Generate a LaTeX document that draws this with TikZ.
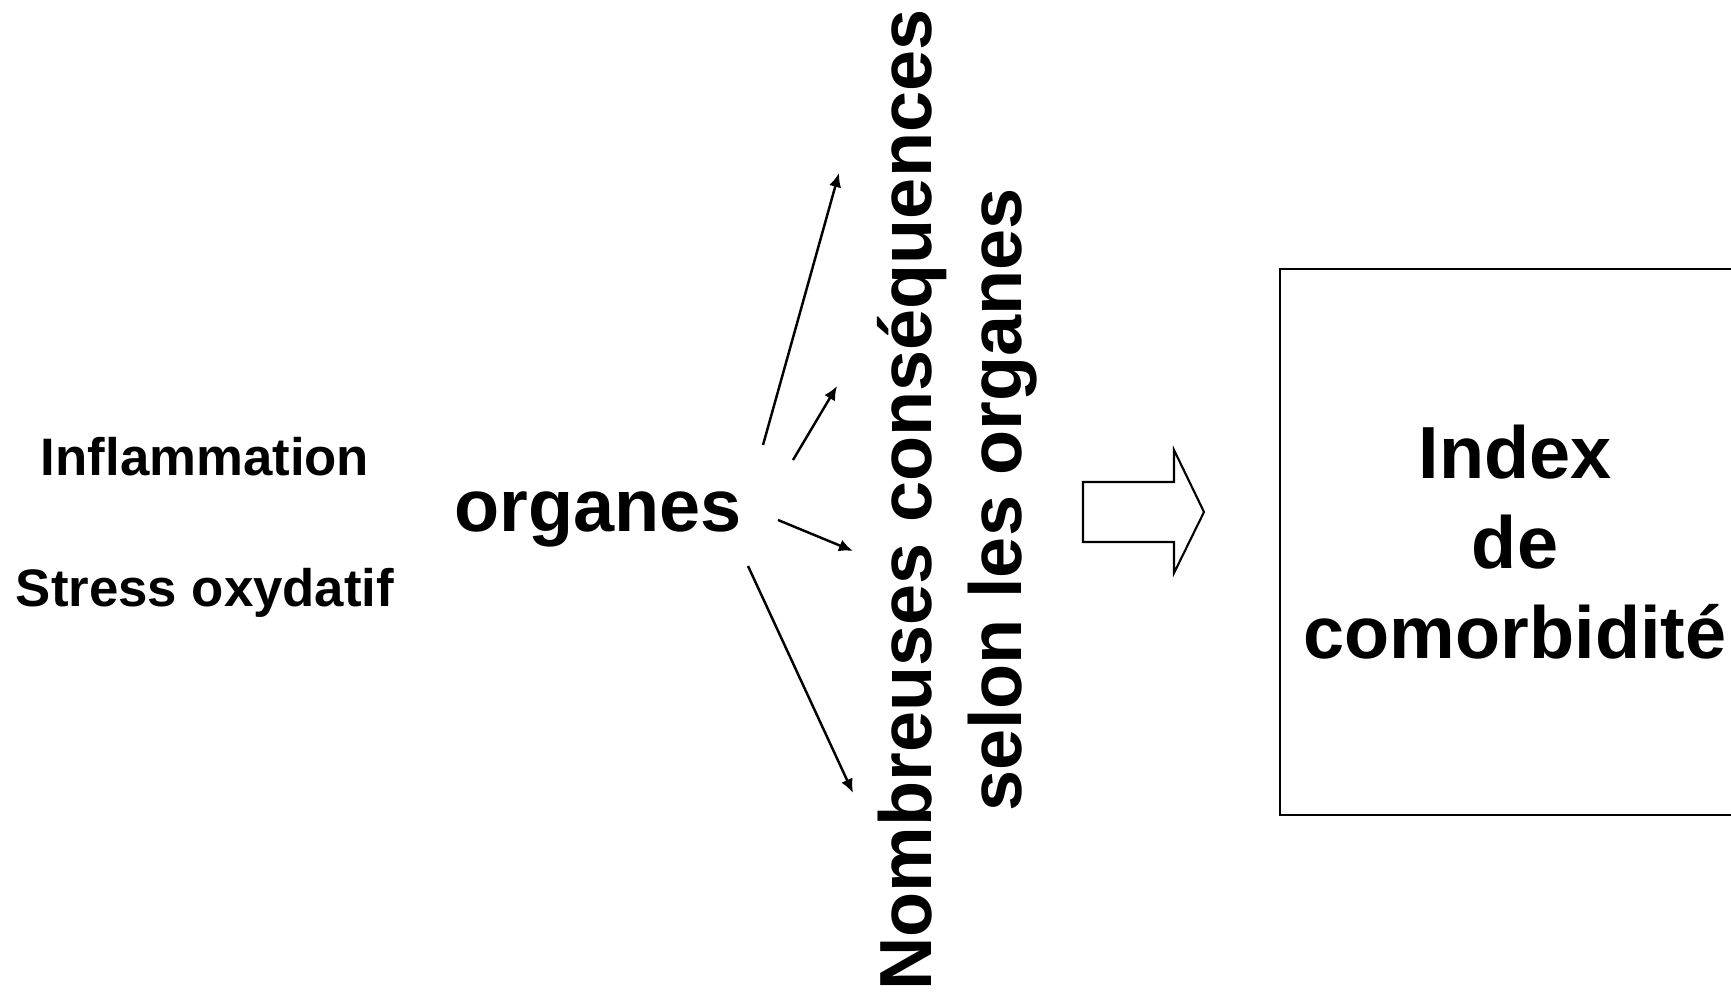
\documentclass[tikz,border=0pt]{standalone}
\usepackage{fontspec}
\setmainfont{Liberation Sans}
\usetikzlibrary{arrows.meta,positioning}

\begin{document}
\begin{tikzpicture}[x=0.01cm, y=-0.01cm]
\tikzset{
	    smalltext/.style={font=\fontsize{15}{18}\selectfont\bfseries, inner sep=0pt},
	    bigtext/.style={font=\fontsize{21}{25.6}\selectfont\bfseries, align=center, inner sep=0pt},
	    mybox/.style={rectangle, draw=black, line width=0.6pt, minimum width=4.7cm, minimum height=5.46cm},
	    myarrow/.style={-{Latex[length=4pt,width=3.5pt]}, line width=0.7pt},
	    hollowarrow/.style={draw=black, line width=0.6pt, fill=white}
	}
	\useasboundingbox (0,0) rectangle (1731,998);
	\clip (0,0) rectangle (1731,998);

	\node[smalltext, anchor=base] (inflam) at (205,476) {Inflammation};
	\node[smalltext, below=0.9cm of inflam] (stress) {Stress oxydatif};

	\node[bigtext, anchor=base] (organes) at (598,532) {organes};

	\node[bigtext, rotate=90] (consequences) at (957,500) {Nombreuses conséquences\\selon les organes};

	\node[bigtext, mybox] (index) at (1515,542) {Index\\de\\comorbidité};

	% fleches vers les consequences
	\coordinate (s1) at (763,445); \coordinate (e1) at (839,173);
	\coordinate (s2) at (793,460); \coordinate (e2) at (837,386);
	\coordinate (s3) at (778,520); \coordinate (e3) at (853,551);
	\coordinate (s4) at (748,566); \coordinate (e4) at (853,793);
	\draw[myarrow] (s1) -- (e1);
	\draw[myarrow] (s2) -- (e2);
	\draw[myarrow] (s3) -- (e3);
	\draw[myarrow] (s4) -- (e4);

	% grosse fleche creuse
	\coordinate (bigtip) at (1204,512);
	\draw[hollowarrow] (1083,482) -- (1174,482) -- (1174,450) -- (bigtip)
	    -- (1174,573) -- (1174,542) -- (1083,542) -- cycle;

\end{tikzpicture}
\end{document}
